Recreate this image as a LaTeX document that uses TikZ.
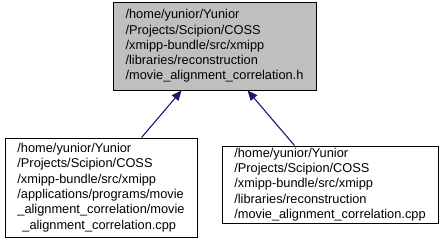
\documentclass[tikz,border=0pt]{standalone}
\usepackage{fontspec}
\setmainfont{Liberation Sans}
\usetikzlibrary{arrows.meta,calc}
\definecolor{edgeblue}{HTML}{191970}
\definecolor{curfill}{HTML}{BFBFBF}
\begin{document}
\begin{tikzpicture}[x=1pt,y=1pt,
  filebox/.style={draw=black,line width=0.9pt,rectangle,inner sep=0pt,align=left,
    font=\fontsize{12.8}{15.3}\selectfont},
  deplink/.style={draw=edgeblue,line width=1.1pt,-{Triangle[length=10pt,width=8.5pt]}},
]
\useasboundingbox (0,0) rectangle (443,-244);

% header file (current)
\node[filebox,fill=curfill,minimum width=203,minimum height=88] (hdr) at (214.5,-46)
  {/home/yunior/Yunior\\/Projects/Scipion/COSS\\/xmipp-bundle/src/xmipp\\/libraries/reconstruction\\/movie\_alignment\_correlation.h};

% files including it
\node[filebox,minimum width=192,minimum height=99] (app) at (101,-187.5)
  {/home/yunior/Yunior\\/Projects/Scipion/COSS\\/xmipp-bundle/src/xmipp\\/applications/programs/movie\\\_alignment\_correlation/movie\\\hspace*{5pt}\_alignment\_correlation.cpp};

\node[filebox,minimum width=216,minimum height=77] (lib) at (330,-184.5)
  {/home/yunior/Yunior\\/Projects/Scipion/COSS\\/xmipp-bundle/src/xmipp\\/libraries/reconstruction\\/movie\_alignment\_correlation.cpp};

% edge end points on the box borders
\coordinate (appTop) at ($(app.north west)+(137,0)$);
\coordinate (libTop) at ($(lib.north west)+(73,0)$);
\coordinate (hdrL) at ($(hdr.south west)+(69,0)$);
\coordinate (hdrR) at ($(hdr.south west)+(135,0)$);

\draw[deplink] (appTop) -- (hdrL);
\draw[deplink] (libTop) -- (hdrR);
\end{tikzpicture}
\end{document}
